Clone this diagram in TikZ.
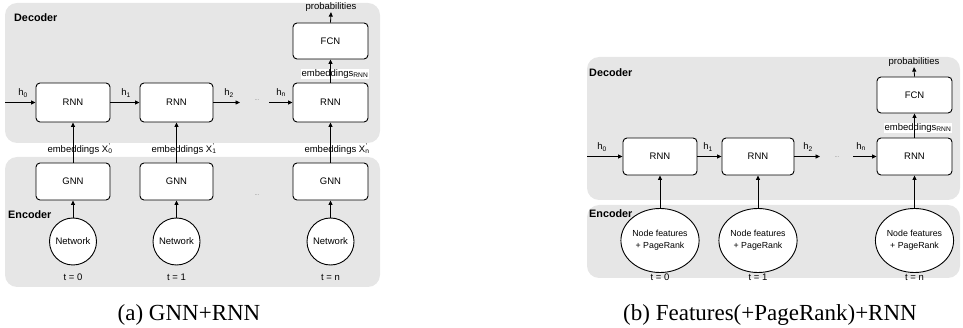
\documentclass[tikz,border=0pt]{standalone}
\usepackage{fontspec}
\setmainfont{Liberation Serif}
\setsansfont{Liberation Sans}
\usetikzlibrary{arrows.meta,shapes.geometric}
\definecolor{panelgray}{HTML}{E6E6E6}
\newcommand{\xpr}[1]{X\makebox[0pt][l]{\raisebox{0.75ex}{\fontsize{7}{7}\selectfont\kern0.3pt'}}\textsubscript{#1}}
\tikzset{
  panelbox/.style={fill=panelgray, rounded corners=12pt, draw=none},
  blk/.style={draw, fill=white, rounded corners=4pt, line width=0.9pt, inner sep=0,
    font=\sffamily\fontsize{9.5}{11}\selectfont},
  netc/.style={draw, fill=white, circle, line width=0.9pt, inner sep=0,
    minimum size=47pt, font=\sffamily\fontsize{9.5}{11}\selectfont},
  featc/.style={draw, fill=white, ellipse, line width=0.9pt, inner sep=0,
    minimum width=61pt, minimum height=64pt, align=center,
    font=\sffamily\fontsize{8.8}{12}\selectfont},
  lbl/.style={inner sep=0.5pt, font=\sffamily\fontsize{9.5}{11}\selectfont},
  wlbl/.style={lbl, fill=white},
  ttl/.style={anchor=west, inner sep=0, font=\sffamily\bfseries\fontsize{10.8}{12}\selectfont},
  dots/.style={inner sep=0, text=gray, font=\sffamily\fontsize{6}{6}\selectfont},
  arr/.style={-{Triangle[length=4.5pt,width=4pt]}, line width=0.8pt},
  capt/.style={inner sep=0, font=\fontsize{23}{26}\selectfont}
}
\begin{document}
\begin{tikzpicture}[x=1pt,y=-1pt]
\useasboundingbox (0,0) rectangle (963,328);
% ---------- (a) ----------
\fill[panelbox] (5,3) rectangle (380,143);
\fill[panelbox] (5,157) rectangle (380,287);
\node[ttl] (decA) at (14,18) {Decoder};
\node[ttl] (encA) at (8,215) {Encoder};

\node[blk, minimum width=74pt, minimum height=39pt] (ra1) at (73,102.5) {RNN};
\node[blk, minimum width=73pt, minimum height=39pt] (ra2) at (176.5,102.5) {RNN};
\node[blk, minimum width=75pt, minimum height=39pt] (ra3) at (330.5,102.5) {RNN};
\node[blk, minimum width=75pt, minimum height=36pt] (fa) at (330.5,41) {FCN};
\node[lbl] (pa) at (331,7) {probabilities};
\node[wlbl] (era) at (335,74) {embeddings\textsubscript{RNN}};

\node[blk, minimum width=74pt, minimum height=37pt] (ga1) at (73,181.5) {GNN};
\node[blk, minimum width=73pt, minimum height=37pt] (ga2) at (176.5,181.5) {GNN};
\node[blk, minimum width=75pt, minimum height=37pt] (ga3) at (330.5,181.5) {GNN};

\node[netc] (na1) at (73,241.5) {Network};
\node[netc] (na2) at (176.5,241.5) {Network};
\node[netc] (na3) at (330.5,241.5) {Network};
\node[lbl] (ta1) at (73,277) {t = 0};
\node[lbl] (ta2) at (176.5,277) {t = 1};
\node[lbl] (ta3) at (330.5,277) {t = n};

\node[wlbl] (ea1) at (80,149) {embeddings \xpr{0}};
\node[wlbl] (ea2) at (184,149) {embeddings \xpr{1}};
\node[wlbl] (ea3) at (337,149) {embeddings \xpr{n}};

\coordinate (ha0) at (5,102.5);
\coordinate (ha2) at (240,102.5);
\coordinate (han) at (269,102.5);
\node[lbl] (lha0) at (23,93) {h\textsubscript{0}};
\node[lbl] (lha1) at (126,93) {h\textsubscript{1}};
\node[lbl] (lha2) at (229,93) {h\textsubscript{2}};
\node[lbl] (lhan) at (281,93) {h\textsubscript{n}};
\node[dots] (da1) at (257,100) {...};
\node[dots] (da2) at (257,195) {...};

\draw[arr] (ha0) -- (ra1.west);
\draw[arr] (ra1.east) -- (ra2.west);
\draw[arr] (ra2.east) -- (ha2);
\draw[arr] (han) -- (ra3.west);
\draw[arr] (ra3.north) -- (fa.south);
\draw[arr] (fa.north) -- (pa.south);
\draw[arr] (ga1.north) -- (ra1.south);
\draw[arr] (ga2.north) -- (ra2.south);
\draw[arr] (ga3.north) -- (ra3.south);
\draw[arr] (na1.north) -- (ga1.south);
\draw[arr] (na2.north) -- (ga2.south);
\draw[arr] (na3.north) -- (ga3.south);

\node[capt] (capA) at (189,315) {(a) GNN+RNN};

% ---------- (b) ----------
\fill[panelbox] (587,57) rectangle (960,200);
\fill[panelbox] (587,205) rectangle (960,278);
\node[ttl] (decB) at (589,73) {Decoder};
\node[ttl] (encB) at (589,214) {Encoder};

\node[blk, minimum width=74pt, minimum height=37pt] (rb1) at (660,156.5) {RNN};
\node[blk, minimum width=72pt, minimum height=37pt] (rb2) at (758,156.5) {RNN};
\node[blk, minimum width=75pt, minimum height=37pt] (rb3) at (914.5,156.5) {RNN};
\node[blk, minimum width=75pt, minimum height=36pt] (fb) at (914.5,95) {FCN};
\node[lbl] (pb) at (914,62) {probabilities};
\node[wlbl] (erb) at (918,128) {embeddings\textsubscript{RNN}};

\node[featc] (cb1) at (660,240.5) {Node features\\+ PageRank};
\node[featc] (cb2) at (758,240.5) {Node features\\+ PageRank};
\node[featc] (cb3) at (914.5,240.5) {Node features\\+ PageRank};
\node[lbl] (tb1) at (660,277) {t = 0};
\node[lbl] (tb2) at (758,277) {t = 1};
\node[lbl] (tb3) at (914.5,277) {t = n};

\coordinate (hb0) at (587,156.5);
\coordinate (hb2) at (820,156.5);
\coordinate (hbn) at (853,156.5);
\node[lbl] (lhb0) at (602,147) {h\textsubscript{0}};
\node[lbl] (lhb1) at (708,147) {h\textsubscript{1}};
\node[lbl] (lhb2) at (808,147) {h\textsubscript{2}};
\node[lbl] (lhbn) at (861,147) {h\textsubscript{n}};
\node[dots] (db1) at (837,157) {...};

\draw[arr] (hb0) -- (rb1.west);
\draw[arr] (rb1.east) -- (rb2.west);
\draw[arr] (rb2.east) -- (hb2);
\draw[arr] (hbn) -- (rb3.west);
\draw[arr] (rb3.north) -- (fb.south);
\draw[arr] (fb.north) -- (pb.south);
\draw[arr] (cb1.north) -- (rb1.south);
\draw[arr] (cb2.north) -- (rb2.south);
\draw[arr] (cb3.north) -- (rb3.south);

\node[capt] (capB) at (770,315) {(b) Features(+PageRank)+RNN};
\end{tikzpicture}
\end{document}
